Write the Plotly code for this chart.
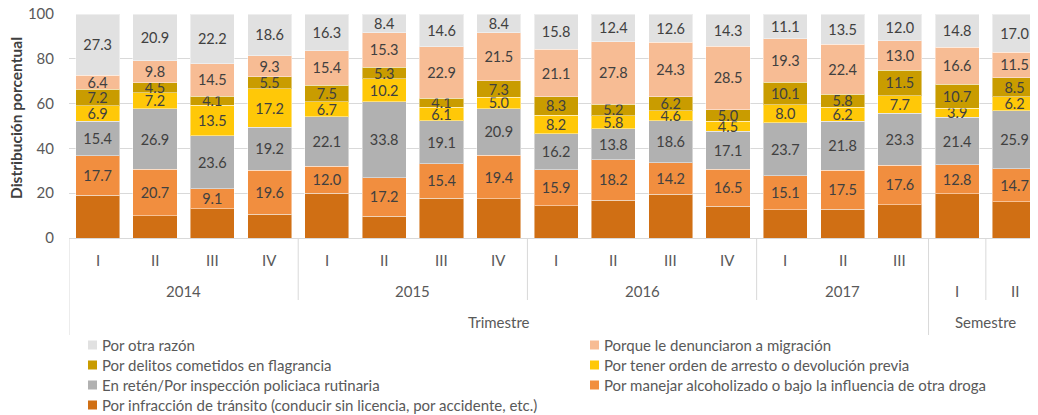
import plotly.graph_objects as go

# ---- data ----
periodos = ["I", "II", "III", "IV", "I", "II", "III", "IV", "I", "II", "III", "IV", "I", "II", "III", "I", "II"]
anios = ["2014"] * 4 + ["2015"] * 4 + ["2016"] * 4 + ["2017"] * 3 + ["", ""]
tipos = ["Trimestre"] * 15 + ["Semestre"] * 2

infraccion = [19.1, 10.0, 13.0, 10.6, 20.0, 9.8, 17.8, 17.5, 14.5, 16.8, 19.5, 14.1, 12.7, 12.8, 14.9, 19.8, 16.2]
alcohol = [17.7, 20.7, 9.1, 19.6, 12.0, 17.2, 15.4, 19.4, 15.9, 18.2, 14.2, 16.5, 15.1, 17.5, 17.6, 12.8, 14.7]
reten = [15.4, 26.9, 23.6, 19.2, 22.1, 33.8, 19.1, 20.9, 16.2, 13.8, 18.6, 17.1, 23.7, 21.8, 23.3, 21.4, 25.9]
arresto = [6.9, 7.2, 13.5, 17.2, 6.7, 10.2, 6.1, 5.0, 8.2, 5.8, 4.6, 4.5, 8.0, 6.2, 7.7, 3.9, 6.2]
flagrancia = [7.2, 4.5, 4.1, 5.5, 7.5, 5.3, 4.1, 7.3, 8.3, 5.2, 6.2, 5.0, 10.1, 5.8, 11.5, 10.7, 8.5]
migracion = [6.4, 9.8, 14.5, 9.3, 15.4, 15.3, 22.9, 21.5, 21.1, 27.8, 24.3, 28.5, 19.3, 22.4, 13.0, 16.6, 11.5]
otra = [27.3, 20.9, 22.2, 18.6, 16.3, 8.4, 14.6, 8.4, 15.8, 12.4, 12.6, 14.3, 11.1, 13.5, 12.0, 14.8, 17.0]

series = [
    ("Por infracción de tránsito (conducir sin licencia, por accidente, etc.)", infraccion, "#D06F14", False, 7),
    ("Por manejar alcoholizado o bajo la influencia de otra droga", alcohol, "#F18E3F", True, 6),
    ("En retén/Por inspección policiaca rutinaria", reten, "#B1B1B1", True, 5),
    ("Por tener orden de arresto o devolución previa", arresto, "#FFC808", True, 4),
    ("Por delitos cometidos en flagrancia", flagrancia, "#C99C00", True, 3),
    ("Porque le denunciaron a migración", migracion, "#F7BC94", True, 2),
    ("Por otra razón", otra, "#E1E1E1", True, 1),
]

FONT = "Lato"
TXT = "#404040"
AX = "#595959"
GRID = "#D9D9D9"

x = [f"{t} {a} {p}" for t, a, p in zip(tipos, anios, periodos)]

fig = go.Figure()
for name, vals, color, lab, rank in series:
    fig.add_trace(go.Bar(
        x=x, y=vals, name=name,
        marker=dict(color=color, line=dict(color="rgba(255,255,255,0.45)", width=1)),
        text=[f"{v:.1f}" for v in vals] if lab else None,
        textposition="inside" if lab else "none",
        insidetextanchor="middle",
        textangle=0,
        textfont=dict(family=FONT, size=14.5, color=TXT),
        hoverinfo="skip",
        showlegend=False,
    ))

# the page body adds an 8px offset; lay out in page pixels
OFF = 8
W, H = 1030, 407
ml, mt, mb = 69 - OFF, 6, 177
plot_h = H - mt - mb
plot_w = W - ml


def py(pix):
    # page pixel y (from top) -> paper y
    return (H - mb - (pix - OFF)) / plot_h


def px(pix):
    return (pix - OFF - ml) / plot_w


annotations = []
shapes = []
n = len(x)
lab_font = dict(family=FONT, size=15, color=AX)


def label(xx, yy, text, xref="x"):
    annotations.append(dict(x=xx, y=yy, xref=xref, yref="paper", text=text,
                            xanchor="center", yanchor="middle",
                            showarrow=False, font=lab_font))


for i in range(n):
    label(i, py(260) if tipos[i] == "Trimestre" else py(291), periodos[i])

# year groups
groups = []
for i, a in enumerate(anios):
    if a == "":
        continue
    if groups and groups[-1][0] == a:
        groups[-1][2] = i
    else:
        groups.append([a, i, i])
for a, s, e in groups:
    label((s + e) / 2, py(291), a)

# type groups
tgroups = []
for i, t in enumerate(tipos):
    if tgroups and tgroups[-1][0] == t:
        tgroups[-1][2] = i
    else:
        tgroups.append([t, i, i])
for t, s, e in tgroups:
    label((s + e) / 2, py(322), t)


def vline(xx, ybot):
    shapes.append(dict(type="line", xref="x", yref="paper", x0=xx, x1=xx, y0=0, y1=ybot,
                       line=dict(color=GRID, width=1)))


for t, s, e in tgroups:
    vline(s - 0.5, py(335))
for a, s, e in groups[1:]:
    vline(s - 0.5, py(300))
vline(15.5, py(300))

# y axis title
annotations.append(dict(x=px(16), y=py(118), xref="paper", yref="paper",
                        xanchor="center", yanchor="middle",
                        text="<b>Distribución porcentual</b>", textangle=-90, showarrow=False,
                        font=dict(family=FONT, size=15.5, color=TXT)))

# manual legend (2 columns)
col_x = [88, 590]
row_y = [345, 365, 385, 405]
for name, vals, color, lab, rank in series:
    r, c = (rank - 1) // 2, (rank - 1) % 2
    x0 = col_x[c]
    yc = row_y[r]
    shapes.append(dict(type="rect", xref="paper", yref="paper",
                       x0=px(x0), x1=px(x0 + 9), y0=py(yc - 4.5), y1=py(yc + 4.5),
                       fillcolor=color, line=dict(width=0)))
    annotations.append(dict(x=px(x0 + 12), y=py(yc), xref="paper", yref="paper", text=name,
                            xanchor="left", yanchor="middle", showarrow=False,
                            font=dict(family=FONT, size=15, color=AX)))

fig.update_layout(
    width=W, height=H,
    margin=dict(l=ml, r=0, t=mt, b=mb, autoexpand=False),
    barmode="stack", bargap=0.23,
    plot_bgcolor="white", paper_bgcolor="white",
    font=dict(family=FONT, size=15, color=AX),
    xaxis=dict(showticklabels=False, showgrid=False, showline=True, linecolor=GRID,
               range=[-0.5, 16.41], fixedrange=True, ticks=""),
    yaxis=dict(range=[0, 100], tickvals=[0, 20, 40, 60, 80, 100], showgrid=True, gridcolor=GRID,
               zeroline=False, showline=False, ticks="", ticklabelstandoff=14,
               ticklabeloverflow="allow",
               tickfont=dict(family=FONT, size=15, color=AX)),
    uniformtext=dict(minsize=14.5, mode="show"),
    annotations=annotations, shapes=shapes,
    showlegend=False,
)

fig.write_html("out.html")
